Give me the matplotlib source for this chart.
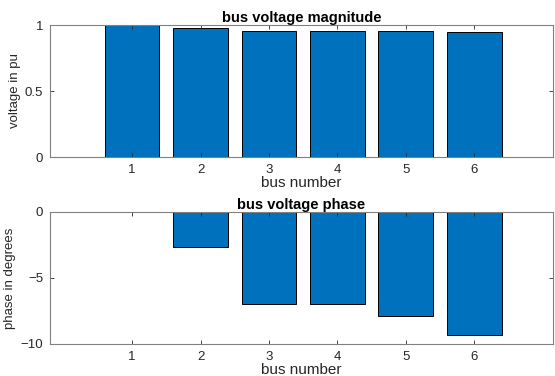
import numpy as np
import matplotlib.pyplot as plt

plt.rcParams['font.family'] = ['Liberation Sans', 'DejaVu Sans']

buses = [1, 2, 3, 4, 5, 6]
vmag = [1.0, 0.978, 0.956, 0.955, 0.953, 0.946]
vphase = [0.0, -2.63, -7.0, -7.0, -7.85, -9.3]

blue = '#0072BD'
grey = '#262626'

fig = plt.figure(figsize=(5.55, 3.76), dpi=100)
ax1 = fig.add_axes([50/555, 1-157/376, 503/555, 132/376])
ax2 = fig.add_axes([50/555, 1-344/376, 503/555, 132/376])

def style(ax):
    ax.set_xlim(-0.2, 7.15)
    ax.set_xticks(buses)
    ax.tick_params(direction='in', top=True, right=True, labelsize=9.5,
                   colors='#262626', length=3, width=0.6, pad=5)
    for s in ax.spines.values():
        s.set_color('#808080')
        s.set_linewidth(0.8)

ax1.bar(buses, vmag, width=0.8, color=blue, edgecolor='black', linewidth=0.7)
style(ax1)
ax1.set_ylim(0, 1)
ax1.set_yticks([0, 0.5, 1])
ax1.set_yticklabels(['0', '0.5', '1'])
ax1.set_title('bus voltage magnitude', fontsize=10.5, fontweight='bold', pad=2)
ax1.set_xlabel('bus number', fontsize=11, color=grey, labelpad=0)
ax1.set_ylabel('voltage in pu', fontsize=9.5, color=grey, labelpad=3)

ax2.bar(buses, vphase, width=0.8, color=blue, edgecolor='black', linewidth=0.7)
style(ax2)
ax2.set_ylim(-10, 0)
ax2.set_yticks([-10, -5, 0])
ax2.set_title('bus voltage phase', fontsize=10.5, fontweight='bold', pad=2)
ax2.set_xlabel('bus number', fontsize=11, color=grey, labelpad=0)
ax2.set_ylabel('phase in degrees', fontsize=9.5, color=grey, labelpad=3)

fig.savefig('out.png', dpi=100)
